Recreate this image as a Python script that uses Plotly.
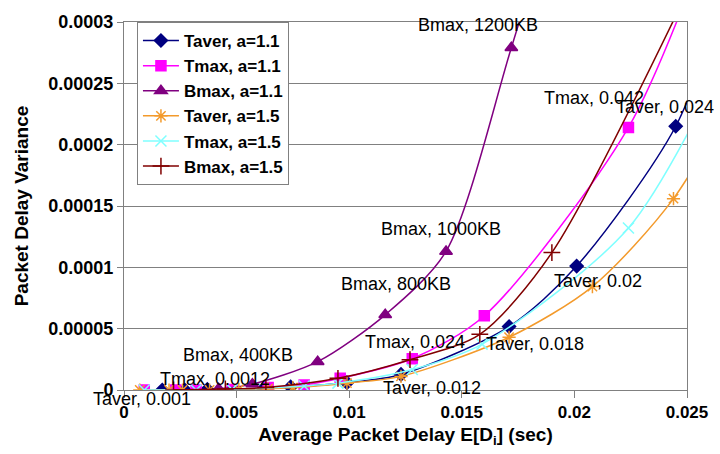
import plotly.graph_objects as go

# ---- data ----
taver11_x = [0.0017, 0.0027, 0.0037, 0.0062, 0.0074, 0.0099, 0.0123, 0.0171, 0.0201, 0.0245, 0.0270]
taver11_y = [0.0, 0.0, 0.0000005, 0.000001, 0.0000025, 0.000006, 0.0000127, 0.0000517, 0.000101, 0.000215, 0.00034]

tmax11_x = [0.0009, 0.0023, 0.0032, 0.0048, 0.0064, 0.0080, 0.0096, 0.0128, 0.0160, 0.0224, 0.0262]
tmax11_y = [0.0, 0.0, 0.0, 0.0000005, 0.000002, 0.000004, 0.0000095, 0.0000255, 0.0000605, 0.000214, 0.00038]

bmax11_x = [0.0042, 0.0057, 0.0086, 0.0116, 0.0143, 0.0172, 0.0195]
bmax11_y = [0.000001, 0.0000048, 0.0000231, 0.0000613, 0.000113, 0.000279, 0.00042]

taver15_x = [0.0007, 0.0020, 0.0026, 0.0038, 0.0051, 0.0064, 0.0075, 0.0099, 0.0123, 0.0171, 0.0208, 0.0244, 0.0280]
taver15_y = [0.0, 0.0, 0.0, 0.0, 0.0000005, 0.000001, 0.000002, 0.0000056, 0.0000111, 0.000043, 0.0000843, 0.000156, 0.00027]

tmax15_x = [0.0009, 0.0032, 0.0048, 0.0080, 0.0095, 0.0128, 0.0159, 0.0224, 0.0270]
tmax15_y = [0.0, 0.0, 0.0000005, 0.0000032, 0.0000056, 0.0000167, 0.0000374, 0.000132, 0.00028]

bmax15_x = [0.0022, 0.0045, 0.0063, 0.0095, 0.0127, 0.0158, 0.0190, 0.0262]
bmax15_y = [0.0, 0.0000008, 0.000002, 0.0000095, 0.0000247, 0.0000454, 0.000112, 0.00037]

series_names = ["Taver, a=1.1", "Tmax, a=1.1", "Bmax, a=1.1",
                "Taver, a=1.5", "Tmax, a=1.5", "Bmax, a=1.5"]

label_texts = ["Bmax, 1200KB", "Tmax, 0.042", "Taver, 0.024", "Bmax, 1000KB",
               "Bmax, 800KB", "Bmax, 400KB", "Tmax, 0.0012", "Taver, 0.001",
               "Tmax, 0.024", "Taver, 0.012", "Taver, 0.018", "Taver, 0.02"]
label_x = [0.01572, 0.02089, 0.02403, 0.01409, 0.0121, 0.00508, 0.00406, 0.000795,
           0.0129, 0.01369, 0.01824, 0.02103]
label_y = [0.0002976, 0.000238, 0.0002308, 0.0001313, 0.0000867, 0.0000286, 0.0000088,
           -0.0000072, 0.000039, 0.0000016, 0.0000374, 0.0000891]

x_ticks = [0, 0.005, 0.01, 0.015, 0.02, 0.025]
x_ticktext = ["0", "0.005", "0.01", "0.015", "0.02", "0.025"]
y_ticks = [0, 0.00005, 0.0001, 0.00015, 0.0002, 0.00025, 0.0003]
y_ticktext = ["0", "0.00005", "0.0001", "0.00015", "0.0002", "0.00025", "0.0003"]

Y_MAX = 0.0003

# ---- styles ----
xs = [taver11_x, tmax11_x, bmax11_x, taver15_x, tmax15_x, bmax15_x]
ys = [taver11_y, tmax11_y, bmax11_y, taver15_y, tmax15_y, bmax15_y]
colors = ["#000080", "#FF00FF", "#800080", "#F39A2B", "#7FFFFF", "#800000"]
symbols = ["diamond", "square", "triangle-up", "asterisk-open", "x-thin-open", "cross-thin-open"]
sizes = [10, 10, 11, 11, 11, 12]

fig = go.Figure()
for x, y, name, c, s, sz in zip(xs, ys, series_names, colors, symbols, sizes):
    fig.add_trace(go.Scatter(
        x=x, y=y, name=name, mode="lines+markers",
        line=dict(color=c, width=1.5, shape="spline", smoothing=0.8),
        marker=dict(color=c, symbol=s, size=sz, line=dict(color=c, width=1.5)),
    ))

for t, lx, ly in zip(label_texts, label_x, label_y):
    # y given as a fraction of the plot height so labels below the axis still show
    fig.add_annotation(x=lx, y=ly / Y_MAX, text=t, showarrow=False, xref="x", yref="paper",
                       xanchor="center", yanchor="middle",
                       font=dict(family="Liberation Sans, Arial", size=18, color="black"))

fig.update_layout(
    width=720, height=454,
    margin=dict(l=124, r=30, t=17, b=60),
    paper_bgcolor="white", plot_bgcolor="white",
    font=dict(family="Liberation Sans, Arial", color="black"),
    showlegend=True,
    legend=dict(x=0.023, y=1.0, xanchor="left", yanchor="top",
                bgcolor="white", bordercolor="#808080", borderwidth=1,
                itemwidth=36, tracegroupgap=0,
                font=dict(size=17, family="Liberation Sans, Arial", weight="bold")),
    xaxis=dict(range=[0, 0.025], tickvals=x_ticks, ticktext=x_ticktext,
               showgrid=False, zeroline=False, showline=True, linecolor="#808080",
               linewidth=1, mirror=True, ticks="outside", ticklen=7, tickcolor="#808080",
               tickfont=dict(size=17, weight="bold"),
               title=dict(text="Average Packet Delay E[D<sub>i</sub>] (sec)",
                          font=dict(size=19, weight="bold"), standoff=6)),
    yaxis=dict(range=[0, Y_MAX], tickvals=y_ticks, ticktext=y_ticktext,
               showgrid=True, gridcolor="#808080", gridwidth=1, zeroline=False,
               showline=True, linecolor="#808080", linewidth=1, mirror=True,
               ticks="outside", ticklen=6, tickcolor="#808080",
               tickfont=dict(size=18, weight="bold"),
               title=dict(text="Packet Delay Variance", font=dict(size=19, weight="bold"),
                          standoff=14)),
)

fig.write_html("out.html")
